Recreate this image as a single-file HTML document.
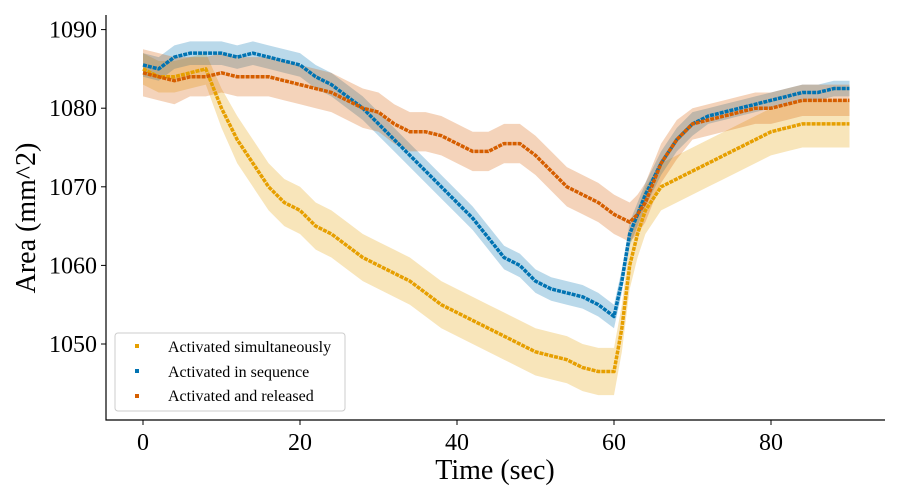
<!DOCTYPE html>
<html><head><meta charset="utf-8"><style>
body{margin:0;background:#fff}
svg{display:block;font-family:"Liberation Serif",serif}
</style></head><body>
<svg id="chart" width="900" height="500" viewBox="0 0 900 500" xmlns="http://www.w3.org/2000/svg">
<g id="bands"></g>
<g id="lines"></g>
<g id="axes"></g>
<g>
<rect x="115" y="333" width="230" height="78" rx="3" fill="#fff" fill-opacity="0.85" stroke="#ccc"/>
<rect x="135" y="344" width="4" height="4" fill="#E69F00"/>
<text x="168" y="352" font-size="16">Activated simultaneously</text>
<rect x="135" y="369" width="4" height="4" fill="#0173B2"/>
<text x="168" y="377" font-size="16">Activated in sequence</text>
<rect x="135" y="394" width="4" height="4" fill="#D55E00"/>
<text x="168" y="401" font-size="16">Activated and released</text>
</g>
<text x="495" y="479" font-size="28" text-anchor="middle">Time (sec)</text>
<text transform="translate(35,218) rotate(-90)" font-size="28" text-anchor="middle">Area (mm^2)</text>
</svg>
<script>
const times=[0,2,4,6,8,10,12,14,16,18,20,22,24,26,28,30,32,34,36,38,40,42,44,46,48,50,52,54,56,58,60,61,62,63,64,66,68,70,72,74,76,78,80,82,84,86,88,90];
const simultaneous=[1085,1084,1084,1084.5,1085,1080,1076,1073,1070,1068,1067,1065,1064,1062.5,1061,1060,1059,1058,1056.5,1055,1054,1053,1052,1051,1050,1049,1048.5,1048,1047,1046.5,1046.5,1052,1060,1064,1067,1070,1071,1072,1073,1074,1075,1076,1077,1077.5,1078,1078,1078,1078];
const sequence=[1085.5,1085,1086.5,1087,1087,1087,1086.5,1087,1086.5,1086,1085.5,1084,1083,1081.5,1080,1078,1076,1074,1072,1070,1068,1066,1063.5,1061,1060,1058,1057,1056.5,1056,1055,1053.5,1058,1064,1066.5,1069,1073,1076,1078,1079,1079.5,1080,1080.5,1081,1081.5,1082,1082,1082.5,1082.5];
const released=[1084.5,1084,1083.5,1084,1084,1084.5,1084,1084,1084,1083.5,1083,1082.5,1082,1081,1080,1079.5,1078,1077,1077,1076.5,1075.5,1074.5,1074.5,1075.5,1075.5,1074,1072,1070,1069,1068,1066.5,1066,1065.5,1066.5,1068,1073,1076,1078,1078.5,1079,1079.5,1080,1080,1080.5,1081,1081,1081,1081];
const spreadSim=[2,2,2,2,2,2.5,3,3,3,3,3,3,3,3,3,3,3,3,3,3,3,3,3,3,3,3,3,3,3,3,3,3,3,3,3,3,3,3,3,3,3,3,3,3,3,3,3,3];
const spreadSeq=[1.5,1.5,1.5,1.5,1.5,1.5,1.5,1.5,1.5,1.5,1.5,1.5,1.5,1.5,1.5,1.5,1.5,1.5,1.5,1.5,1.5,1.5,1.5,1.5,1.5,1.5,1.5,1.5,1.5,1.5,1.5,1.5,1.5,1.5,1.5,1.5,1.5,1.5,1,1,1,1,1,1,1,1,1,1];
const spreadRel=[3,3,3,2.5,2.5,2.5,2.5,2.5,2.5,2.5,2.5,2.5,2.5,2.5,2.5,2.5,2.5,2.5,2.5,2.5,2.5,2.5,2.5,2.5,2.5,2.5,2.5,2.5,2.5,2.5,2.5,2.5,2.5,2.5,2.5,2.5,2.5,2,2,2,2,2,2,2,2,2,2,2];
const xTicks=[0,20,40,60,80];
const yTicks=[1050,1060,1070,1080,1090];
const X=t=>143+t*7.85;
const Y=v=>344-(v-1050)*7.86;
const NS='http://www.w3.org/2000/svg';
function mk(tag,attrs,parent){const e=document.createElementNS(NS,tag);for(const k in attrs)e.setAttribute(k,attrs[k]);parent.appendChild(e);return e;}
const bands=document.getElementById('bands'),lines=document.getElementById('lines'),axes=document.getElementById('axes');
const series=[[simultaneous,spreadSim,'#E69F00','simultaneous'],[sequence,spreadSeq,'#0173B2','sequence'],[released,spreadRel,'#D55E00','released']];
series.forEach(([vals,sp,col,nm])=>{
  let up=times.map((t,i)=>X(t)+','+Y(vals[i]+sp[i]));
  let lo=times.map((t,i)=>X(t)+','+Y(vals[i]-sp[i])).reverse();
  const b=mk('polygon',{points:up.concat(lo).join(' '),fill:col,'fill-opacity':0.27},bands);
  
  
});
series.forEach(([vals,sp,col,nm])=>{
  const l=mk('polyline',{points:times.map((t,i)=>X(t)+','+Y(vals[i])).join(' '),fill:'none',stroke:col,'stroke-width':3.5,'stroke-linejoin':'round','stroke-dasharray':'4 1'},lines);
  
  
});
const ax=mk('path',{d:'M106,15 V420 H885',fill:'none',stroke:'#000','stroke-width':1.2},axes);


xTicks.forEach(t=>{
  mk('line',{x1:X(t),x2:X(t),y1:420,y2:425,stroke:'#000'},axes);
  const tx=mk('text',{x:X(t),y:450,'font-size':24,'text-anchor':'middle'},axes);
  tx.textContent=t;
  
  
});
yTicks.forEach(v=>{
  mk('line',{x1:101,x2:106,y1:Y(v),y2:Y(v),stroke:'#000'},axes);
  const tx=mk('text',{x:97,y:Y(v)+8,'font-size':24,'text-anchor':'end'},axes);
  tx.textContent=v;
  
  
});
</script>
</body></html>
